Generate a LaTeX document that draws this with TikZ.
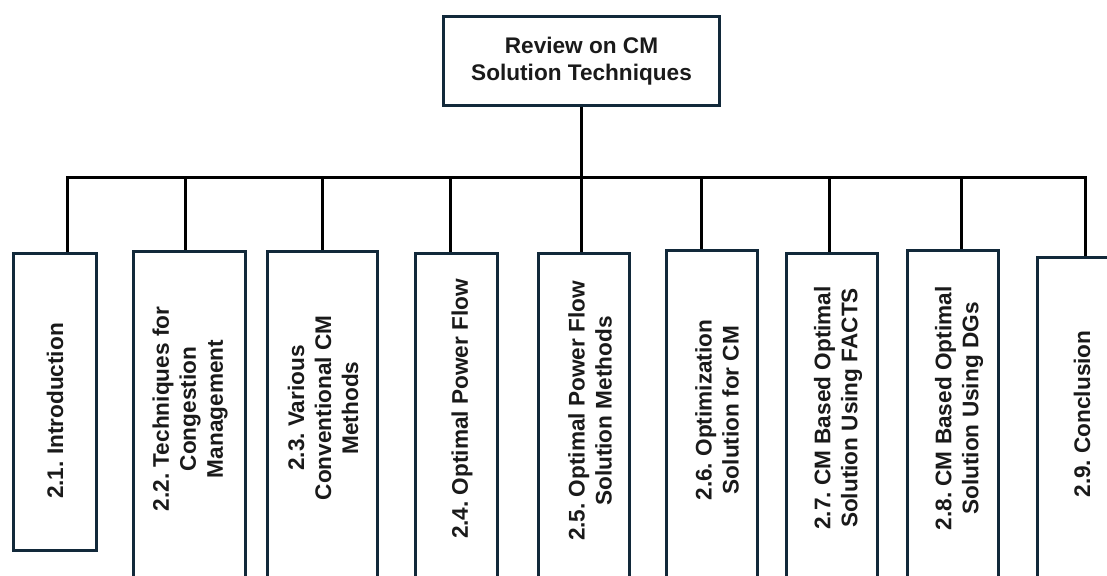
\documentclass[tikz,border=0pt]{standalone}
\usepackage{fontspec}
\setmainfont{Liberation Sans}
\frenchspacing
\definecolor{boxline}{HTML}{12293A}
\definecolor{ink}{HTML}{1A1A1A}
\begin{document}
\begin{tikzpicture}[x=1pt,y=-1pt,
  vbox/.style={draw=boxline, line width=3pt, fill=white, rectangle, inner sep=0pt, anchor=north},
  vtxt/.style={rotate=90, align=center, text=ink, inner sep=0pt,
    font=\frenchspacing\bfseries\fontsize{22.6}{27}\selectfont},
  conn/.style={draw=black, line width=3pt}]
\useasboundingbox (0,0) rectangle (1107,575);
\clip (0,0) rectangle (1107,575);
\fill[white] (0,0) rectangle (1107,575);

% title
\node[draw=boxline, line width=3pt, fill=white, minimum width=276pt, minimum height=89pt,
  align=center, text=ink, font=\frenchspacing\bfseries\fontsize{22.6}{27}\selectfont] (b0) at (581.5,61)
  {Review on CM\\Solution Techniques};

% bus junctions
\coordinate (j1) at (67,177);
\coordinate (j2) at (185,177);
\coordinate (j3) at (322,177);
\coordinate (j4) at (450,177);
\coordinate (j5) at (581.5,177);
\coordinate (j6) at (701,177);
\coordinate (j7) at (829,177);
\coordinate (j8) at (961,177);
\coordinate (j9) at (1085,177);

% boxes
\node[vbox, minimum width=83pt, minimum height=297pt] (b1) at (55,251.5) {};
\node[vbox, minimum width=112pt, minimum height=360pt] (b2) at (189.5,249.5) {};
\node[vbox, minimum width=110pt, minimum height=360pt] (b3) at (322.5,249.5) {};
\node[vbox, minimum width=82pt, minimum height=360pt] (b4) at (456.5,251.5) {};
\node[vbox, minimum width=91pt, minimum height=360pt] (b5) at (584,251.5) {};
\node[vbox, minimum width=91pt, minimum height=360pt] (b6) at (712,248.5) {};
\node[vbox, minimum width=91pt, minimum height=360pt] (b7) at (832,251.5) {};
\node[vbox, minimum width=91pt, minimum height=360pt] (b8) at (953,248.5) {};
\node[vbox, minimum width=91pt, minimum height=360pt] (b9) at (1083,255.5) {};

% texts
\node[vtxt] (t1) at (55,411) {2.1. Introduction};
\node[vtxt] (t2) at (190,409) {2.2. Techniques for\\Congestion\\Management};
\node[vtxt] (t3) at (323,408) {2.3. Various\\Conventional CM\\Methods};
\node[vtxt] (t4) at (462,409) {2.4. Optimal Power Flow};
\node[vtxt] (t5) at (590,411) {2.5. Optimal Power Flow\\Solution Methods};
\node[vtxt] (t6) at (717,410) {2.6. Optimization\\Solution for CM};
\node[vtxt] (t7) at (838,408) {2.7. CM Based Optimal\\Solution Using FACTS};
\node[vtxt] (t8) at (959,408.5) {2.8. CM Based Optimal\\Solution Using DGs};
\node[vtxt] (t9) at (1082,414) {2.9. Conclusion};

% connectors
\draw[conn] (b0.south) -- (j5);
\draw[conn] (j1 |- b1.north) -- (j1) -- (j9) -- (j9 |- b9.north);
\draw[conn] (j2) -- (j2 |- b2.north);
\draw[conn] (j3) -- (j3 |- b3.north);
\draw[conn] (j4) -- (j4 |- b4.north);
\draw[conn] (j5) -- (j5 |- b5.north);
\draw[conn] (j6) -- (j6 |- b6.north);
\draw[conn] (j7) -- (j7 |- b7.north);
\draw[conn] (j8) -- (j8 |- b8.north);
\end{tikzpicture}
\end{document}
